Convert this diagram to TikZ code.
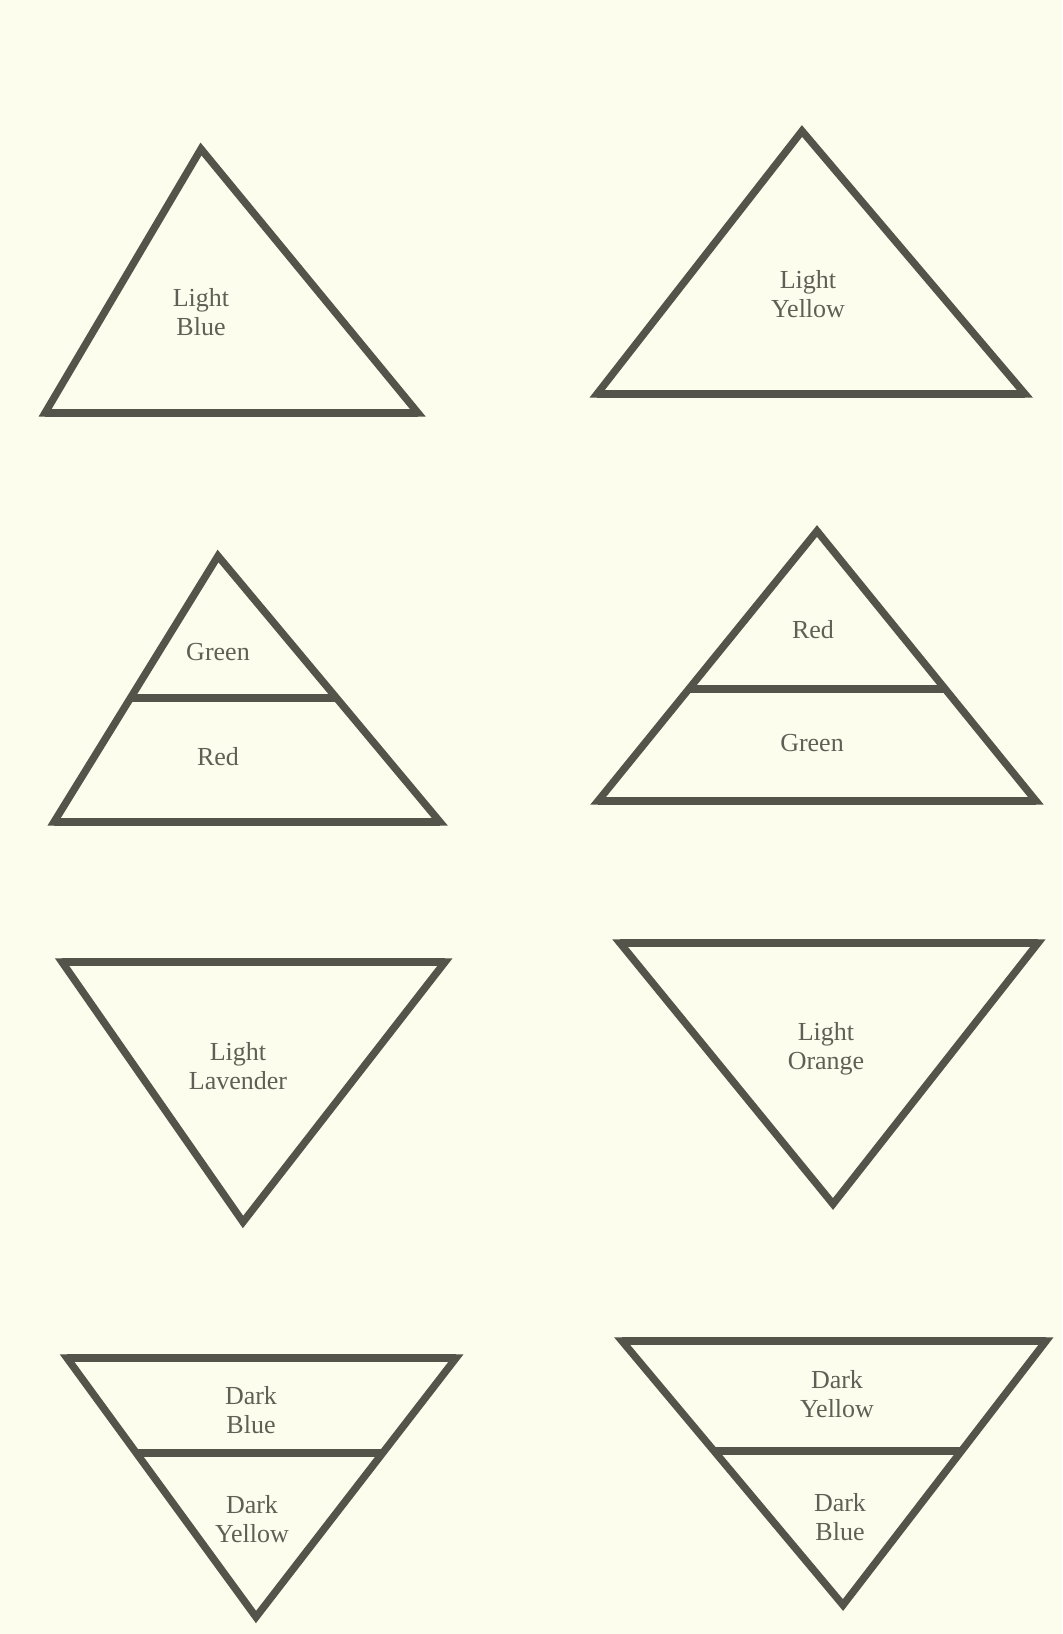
\documentclass[tikz,border=0pt]{standalone}
\usepackage{fontspec}
\setmainfont{Liberation Serif}
\usepackage{xcolor}
\usepackage{tikz}
\usetikzlibrary{calc}

\definecolor{paper}{RGB}{253,253,238}
\definecolor{ink}{RGB}{84,84,74}
\definecolor{print}{RGB}{95,95,85}

\begin{document}
\begin{tikzpicture}[
    x=0.5pt, y=-0.5pt,
    side/.style={draw=ink, line width=3.7pt, line join=miter},
    band/.style={draw=ink, line width=4.3pt},
    tint/.style={text=print, align=center, inner sep=0pt, font=\fontsize{13}{14.5}\selectfont}
]
    % Page
    \useasboundingbox (0,0) rectangle (1062,1634);
    \fill[paper] (0,0) rectangle (1062,1634);

    % Corners (apex, left, right)
    \coordinate (A1) at (201,149);  \coordinate (L1) at (45,413);   \coordinate (R1) at (418,413);
    \coordinate (A2) at (802,131);  \coordinate (L2) at (597,394);  \coordinate (R2) at (1025,394);
    \coordinate (A3) at (218,556);  \coordinate (L3) at (54,822);   \coordinate (R3) at (440,822);
    \coordinate (A4) at (817,531);  \coordinate (L4) at (598,801);  \coordinate (R4) at (1036,801);
    \coordinate (A5) at (243,1222); \coordinate (L5) at (62,962);   \coordinate (R5) at (445,962);
    \coordinate (A6) at (833,1204); \coordinate (L6) at (620,943);  \coordinate (R6) at (1038,943);
    \coordinate (A7) at (256,1617); \coordinate (L7) at (67,1358);  \coordinate (R7) at (456,1358);
    \coordinate (A8) at (843,1605); \coordinate (L8) at (622,1341); \coordinate (R8) at (1046,1341);

    % Triangles
    \foreach \i in {1,...,8} {
        \draw[side] (L\i) -- (A\i) -- (R\i) -- cycle;
        \draw[band] (L\i) -- (R\i);
    }

    % Dividers
    \draw[band] ($(A3)!0.534!(L3)$) -- ($(A3)!0.534!(R3)$);
    \draw[band] ($(A4)!0.585!(L4)$) -- ($(A4)!0.585!(R4)$);
    \draw[band] ($(A7)!0.633!(L7)$) -- ($(A7)!0.633!(R7)$);
    \draw[band] ($(A8)!0.583!(L8)$) -- ($(A8)!0.583!(R8)$);

    % Labels
    \node[tint] (lightblue) at (201,312) {Light\\Blue};
    \node[tint] (lightyellow) at (808,294) {Light\\Yellow};
    \node[tint] (greenA) at (218,652) {Green};
    \node[tint] (redA) at (218,757) {Red};
    \node[tint] (redB) at (813,630) {Red};
    \node[tint] (greenB) at (812,743) {Green};
    \node[tint] (lavender) at (238,1066) {Light\\Lavender};
    \node[tint] (orange) at (826,1049) {Light\\Orange};
    \node[tint] (darkblueA) at (251,1410) {Dark\\Blue};
    \node[tint] (darkyellowA) at (252,1519) {Dark\\Yellow};
    \node[tint] (darkyellowB) at (837,1394) {Dark\\Yellow};
    \node[tint] (darkblueB) at (840,1517) {Dark\\Blue};
\end{tikzpicture}
\end{document}
